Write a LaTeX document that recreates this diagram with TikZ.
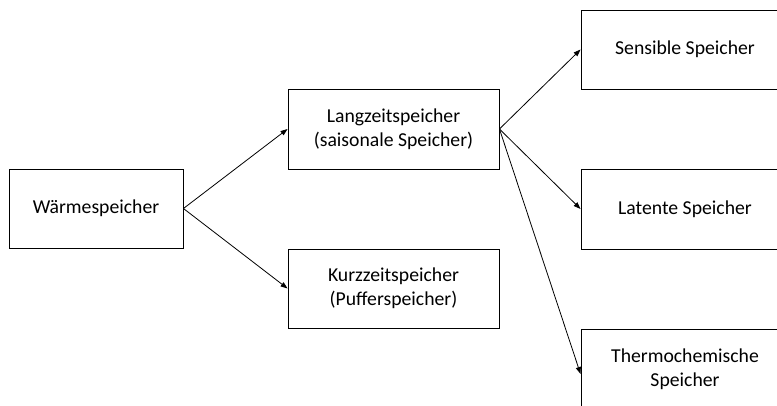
\documentclass[tikz,border=0pt]{standalone}
\usepackage{fontspec}
\setmainfont{Carlito}
\usetikzlibrary{arrows.meta}
\begin{document}
\begin{tikzpicture}[x=1pt,y=-1pt,
  box/.style={draw=black, line width=0.9pt, inner sep=0pt, align=center,
    font=\fontsize{19.7}{24}\selectfont},
  conn/.style={-{Triangle[length=7pt,width=5pt]}, line width=0.8pt, draw=black}]
\useasboundingbox (0,0) rectangle (777,405);
\clip (0,0) rectangle (777,405);
\node[box, minimum width=174pt, minimum height=79pt] (w) at (96,208.5) {Wärmespeicher};
\node[box, minimum width=211pt, minimum height=80pt] (l) at (393.5,129) {Langzeitspeicher\\(saisonale Speicher)};
\node[box, minimum width=211pt, minimum height=79pt] (k) at (393.5,288.5) {Kurzzeitspeicher\\(Pufferspeicher)};
\node[box, minimum width=208pt, minimum height=79pt] (s) at (685,49.5) {Sensible Speicher};
\node[box, minimum width=208pt, minimum height=80pt] (la) at (685,209) {Latente Speicher};
\node[box, minimum width=208pt, minimum height=80pt] (t) at (685,369) {Thermochemische\\Speicher};
\draw[conn] (w.east) -- (l.west);
\draw[conn] (w.east) -- (k.west);
\draw[conn] (l.east) -- (s.west);
\draw[conn] (l.east) -- (la.west);
\draw[conn] (l.east) -- ([yshift=-5pt]t.west);
\end{tikzpicture}
\end{document}
